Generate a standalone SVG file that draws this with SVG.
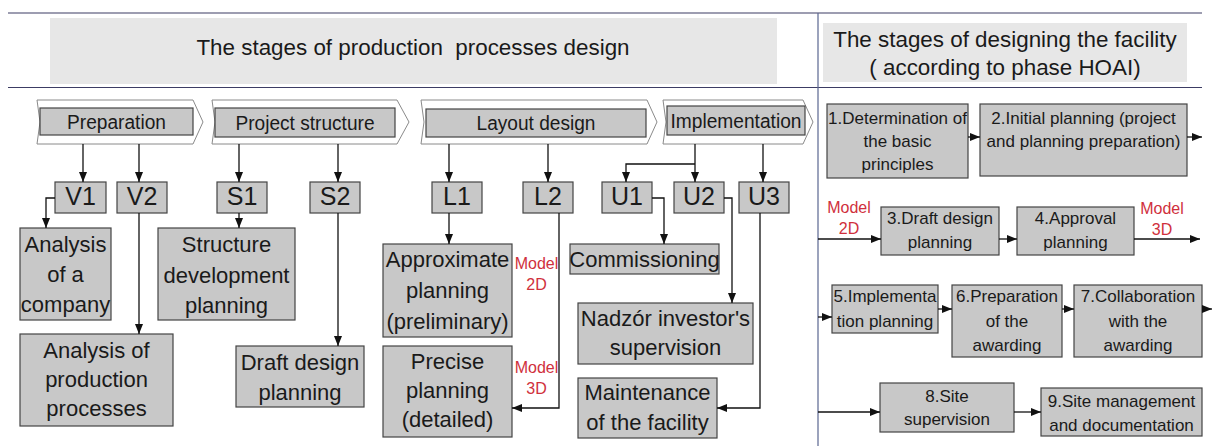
<svg xmlns="http://www.w3.org/2000/svg" width="1212" height="446" viewBox="0 0 1212 446">
<defs>
<marker id="ah" markerUnits="userSpaceOnUse" markerWidth="11" markerHeight="8" refX="10" refY="4" orient="auto">
<path d="M0,0 L10,4 L0,8 z" fill="#111"/>
</marker>
<style>
.hdr{fill:#e7e7e7}
.rule{stroke:#3c3c64;stroke-width:1.2;fill:none}
.chev{fill:#fff;stroke:#8a8a8a;stroke-width:1}
.box{fill:#c8c8c8;stroke:#444;stroke-width:1.2}
.t{font-family:"Liberation Sans",Arial,sans-serif;fill:#1a1a1a;text-anchor:middle}
.h{font-size:22.4px}
.c{font-size:20px}
.s{font-size:25px}
.b{font-size:22px}
.r{font-size:17px}
.m{font-size:16px;fill:#d0303c}
.conn path{stroke:#111;stroke-width:1.3;fill:none}
.arr{marker-end:url(#ah)}
</style>
</defs>
<rect width="1212" height="446" fill="#fff"/>

<g id="frame">
<rect class="hdr" x="50" y="18" width="727" height="66"/>
<rect class="hdr" x="823" y="23" width="364" height="59"/>
<path class="rule" d="M8,13 H1202 M8,87.5 H1202"/>
<path d="M818,13 V446" stroke="#5a6690" stroke-width="1.2"/>
</g>

<g id="header-left"><text class="t h" x="413" y="55" xml:space="preserve">The stages of production  processes design</text></g>
<g id="header-right">
<text class="t h" x="1005" y="47">The stages of designing the facility</text>
<text class="t h" x="1005" y="75">( according to phase HOAI)</text>
</g>

<g id="preparation">
<polygon class="chev" points="37,100 193,100 203,122 193,144 37,144 40,122"/>
<rect class="box" x="40" y="108" width="153" height="27"/>
<text class="t c" x="116.5" y="129" textLength="99" lengthAdjust="spacingAndGlyphs">Preparation</text>
</g>
<g id="project-structure">
<polygon class="chev" points="212,100 397,100 409,122 397,144 212,144 215,122"/>
<rect class="box" x="215" y="108" width="180" height="29"/>
<text class="t c" x="305" y="130" textLength="139" lengthAdjust="spacingAndGlyphs">Project structure</text>
</g>
<g id="layout-design">
<polygon class="chev" points="421,100 647,100 657,122 647,144 421,144 424,122"/>
<rect class="box" x="426" y="109" width="220" height="28"/>
<text class="t c" x="536" y="130" textLength="119" lengthAdjust="spacingAndGlyphs">Layout design</text>
</g>
<g id="implementation">
<polygon class="chev" points="663,100 803,100 813,122 803,144 663,144 666,122"/>
<rect class="box" x="667" y="106" width="138" height="29"/>
<text class="t c" x="736" y="128" textLength="131" lengthAdjust="spacingAndGlyphs">Implementation</text>
</g>

<g id="V1"><rect class="box" x="55" y="182" width="51" height="31"/><text class="t s" x="80.5" y="205">V1</text></g>
<g id="V2"><rect class="box" x="117" y="182" width="50" height="31"/><text class="t s" x="142" y="205">V2</text></g>
<g id="S1"><rect class="box" x="217" y="182" width="50" height="31"/><text class="t s" x="242" y="205">S1</text></g>
<g id="S2"><rect class="box" x="310" y="182" width="50" height="31"/><text class="t s" x="335" y="205">S2</text></g>
<g id="L1"><rect class="box" x="432" y="182" width="50" height="31"/><text class="t s" x="457" y="205">L1</text></g>
<g id="L2"><rect class="box" x="523" y="182" width="50" height="31"/><text class="t s" x="548" y="205">L2</text></g>
<g id="U1"><rect class="box" x="602" y="182" width="50" height="31"/><text class="t s" x="627" y="205">U1</text></g>
<g id="U2"><rect class="box" x="674" y="182" width="50" height="31"/><text class="t s" x="699" y="205">U2</text></g>
<g id="U3"><rect class="box" x="739" y="182" width="50" height="31"/><text class="t s" x="764" y="205">U3</text></g>

<g id="analysis-company"><rect class="box" x="20" y="228" width="91" height="92"/>
<text class="t b" x="65.5" y="252">Analysis</text><text class="t b" x="65.5" y="282">of a</text><text class="t b" x="65.5" y="312">company</text></g>
<g id="analysis-production"><rect class="box" x="20" y="334" width="153" height="92"/>
<text class="t b" x="96.5" y="358">Analysis of</text><text class="t b" x="96.5" y="387">production</text><text class="t b" x="96.5" y="416">processes</text></g>
<g id="structure-development"><rect class="box" x="158" y="228" width="137" height="92"/>
<text class="t b" x="226.5" y="252">Structure</text><text class="t b" x="226.5" y="283">development</text><text class="t b" x="226.5" y="313">planning</text></g>
<g id="draft-design"><rect class="box" x="236" y="346" width="128" height="61"/>
<text class="t b" x="300" y="370">Draft design</text><text class="t b" x="300" y="400">planning</text></g>
<g id="approximate"><rect class="box" x="383" y="244" width="129" height="93"/>
<text class="t b" x="447.5" y="267">Approximate</text><text class="t b" x="447.5" y="298">planning</text><text class="t b" x="447.5" y="329">(preliminary)</text></g>
<g id="precise"><rect class="box" x="383" y="346" width="129" height="91"/>
<text class="t b" x="447.5" y="369">Precise</text><text class="t b" x="447.5" y="398">planning</text><text class="t b" x="447.5" y="427">(detailed)</text></g>
<g id="commissioning"><rect class="box" x="570" y="244" width="149" height="30"/>
<text class="t b" x="644.5" y="267">Commissioning</text></g>
<g id="nadzor"><rect class="box" x="578" y="303" width="175" height="61"/>
<text class="t b" x="665.5" y="326">Nadzór investor's</text><text class="t b" x="665.5" y="355">supervision</text></g>
<g id="maintenance"><rect class="box" x="578" y="378" width="139" height="60"/>
<text class="t b" x="647.5" y="400">Maintenance</text><text class="t b" x="647.5" y="430">of the facility</text></g>

<g id="model-2d-left"><text class="t m" x="536.5" y="269">Model</text><text class="t m" x="536.5" y="290">2D</text></g>
<g id="model-3d-left"><text class="t m" x="536.5" y="373">Model</text><text class="t m" x="536.5" y="394">3D</text></g>

<g id="hoai-1"><rect class="box" x="827" y="104" width="141" height="74"/>
<text class="t r" x="897.5" y="124">1.Determination of</text><text class="t r" x="897.5" y="147">the basic</text><text class="t r" x="897.5" y="170">principles</text></g>
<g id="hoai-2"><rect class="box" x="980" y="104" width="207" height="72"/>
<text class="t r" x="1083.5" y="124">2.Initial planning (project</text><text class="t r" x="1083.5" y="147">and planning preparation)</text></g>
<g id="hoai-3"><rect class="box" x="881" y="207" width="118" height="48"/>
<text class="t r" x="940" y="224">3.Draft design</text><text class="t r" x="940" y="248">planning</text></g>
<g id="hoai-4"><rect class="box" x="1017" y="207" width="117" height="48"/>
<text class="t r" x="1075.5" y="224">4.Approval</text><text class="t r" x="1075.5" y="248">planning</text></g>
<g id="hoai-5"><rect class="box" x="832" y="285" width="106" height="48"/>
<text class="t r" x="885" y="302">5.Implementa</text><text class="t r" x="885" y="327">tion planning</text></g>
<g id="hoai-6"><rect class="box" x="952" y="285" width="110" height="72"/>
<text class="t r" x="1007" y="302">6.Preparation</text><text class="t r" x="1007" y="327">of the</text><text class="t r" x="1007" y="351">awarding</text></g>
<g id="hoai-7"><rect class="box" x="1074" y="285" width="128" height="72"/>
<text class="t r" x="1138" y="302">7.Collaboration</text><text class="t r" x="1138" y="327">with the</text><text class="t r" x="1138" y="351">awarding</text></g>
<g id="hoai-8"><rect class="box" x="880" y="383" width="134" height="49"/>
<text class="t r" x="947" y="402">8.Site</text><text class="t r" x="947" y="425">supervision</text></g>
<g id="hoai-9"><rect class="box" x="1041" y="388" width="161" height="48"/>
<text class="t r" x="1121.5" y="407">9.Site management</text><text class="t r" x="1121.5" y="431">and documentation</text></g>

<g id="model-2d-right"><text class="t m" x="849" y="213">Model</text><text class="t m" x="849" y="234">2D</text></g>
<g id="model-3d-right"><text class="t m" x="1162" y="214">Model</text><text class="t m" x="1162" y="235">3D</text></g>

<g id="connectors" class="conn">
<path class="arr" d="M83,144 V182"/>
<path class="arr" d="M139,144 V182"/>
<path class="arr" d="M239,144 V182"/>
<path class="arr" d="M338,144 V182"/>
<path class="arr" d="M449,144 V182"/>
<path class="arr" d="M548,144 V182"/>
<path class="arr" d="M695,144 V182"/>
<path class="arr" d="M695,164 H626 V182"/>
<path class="arr" d="M763,144 V182"/>
<path class="arr" d="M55,198 H46 V228"/>
<path class="arr" d="M139,213 V334"/>
<path class="arr" d="M239,213 V228"/>
<path class="arr" d="M338,213 V346"/>
<path class="arr" d="M449,213 V244"/>
<path class="arr" d="M559,213 V408 H512"/>
<path class="arr" d="M652,198 H664 V244"/>
<path class="arr" d="M724,198 H732 V303"/>
<path class="arr" d="M760,213 V408 H717"/>
<path class="arr" d="M968,137 H980"/>
<path class="arr" d="M1187,137 H1202"/>
<path class="arr" d="M818,239 H881"/>
<path class="arr" d="M999,239 H1017"/>
<path class="arr" d="M1134,239 H1200"/>
<path class="arr" d="M818,317 H832"/>
<path class="arr" d="M938,309 H952"/>
<path class="arr" d="M1062,309 H1074"/>
<path class="arr" d="M1202,309 H1212"/>
<path class="arr" d="M818,412 H880"/>
<path class="arr" d="M1014,412 H1041"/>
</g>
</svg>
